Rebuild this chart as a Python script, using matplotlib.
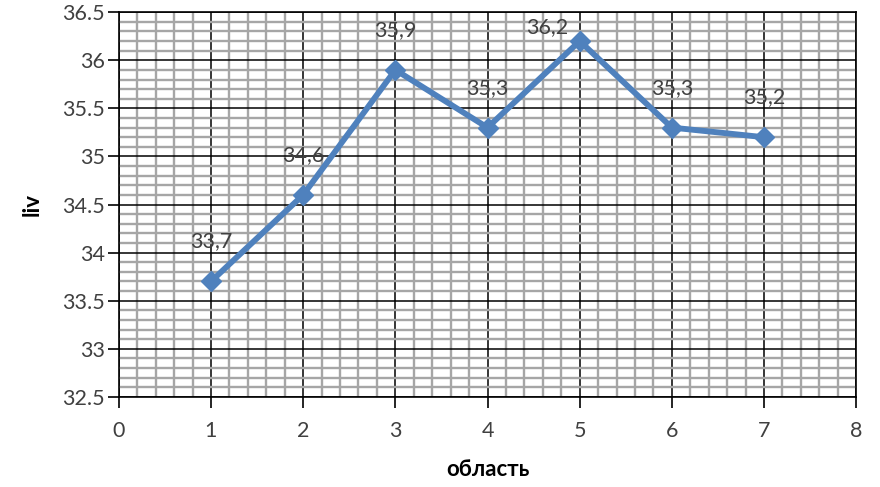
import matplotlib
matplotlib.use("Agg")
import matplotlib.pyplot as plt
from matplotlib.ticker import MultipleLocator

plt.rcParams['font.family'] = ['Lato', 'DejaVu Sans']

regions = [1, 2, 3, 4, 5, 6, 7]
liv = [33.7, 34.6, 35.9, 35.3, 36.2, 35.3, 35.2]
labels = ["33,7", "34,6", "35,9", "35,3", "36,2", "35,3", "35,2"]

fig = plt.figure(figsize=(8.8, 4.87), dpi=100)
ax = fig.add_axes([0.135, 0.185, 0.838, 0.790])

ymin, ymax = 32.5, 36.5
ax.set_xlim(0, 8)
ax.set_ylim(ymin, ymax)
ax.xaxis.set_major_locator(MultipleLocator(1))
ax.xaxis.set_minor_locator(MultipleLocator(0.2))
ax.yaxis.set_major_locator(MultipleLocator(0.5))
ax.yaxis.set_minor_locator(MultipleLocator(0.1))
ax.yaxis.set_major_formatter(plt.FuncFormatter(lambda v, p: f"{v:g}"))

ax.grid(which='minor', color='#a6a6a6', linewidth=1.7, zorder=0)
ax.grid(which='major', color='black', linewidth=1.1, zorder=1)
ax.set_axisbelow(True)

for s in ax.spines.values():
    s.set_color('black')
    s.set_linewidth(1.2)

ax.tick_params(which='major', direction='out', length=8, width=1.2,
               labelsize=15.5, labelcolor='#404040')
ax.tick_params(axis='y', which='major', pad=2)
ax.tick_params(axis='x', which='major', pad=9)
ax.tick_params(which='minor', length=0)

ax.plot(regions, liv, color='#4f81bd', linewidth=4.2, marker='D',
        markersize=10, markerfacecolor='#4f81bd', markeredgecolor='#4f81bd',
        zorder=3)

# data labels sit above each point; near the top edge they move down and
# to the left so they stay inside the plot area
top_limit = ymax - 0.156
for x, y, t in zip(regions, liv, labels):
    ly = y + 0.415
    if ly > top_limit:
        ax.annotate(t, (x, top_limit), xytext=(-8, 0), textcoords='offset points',
                    ha='right', va='center', fontsize=15.5, color='#404040',
                    zorder=4)
    else:
        ax.text(x, ly, t, ha='center', va='center', fontsize=15.5,
                color='#404040', zorder=4)

ax.set_xlabel('область', fontsize=16, fontweight='bold', labelpad=13)
ax.set_ylabel('liv', fontsize=16, fontweight='bold', labelpad=14)

fig.savefig('out.png', dpi=100)
